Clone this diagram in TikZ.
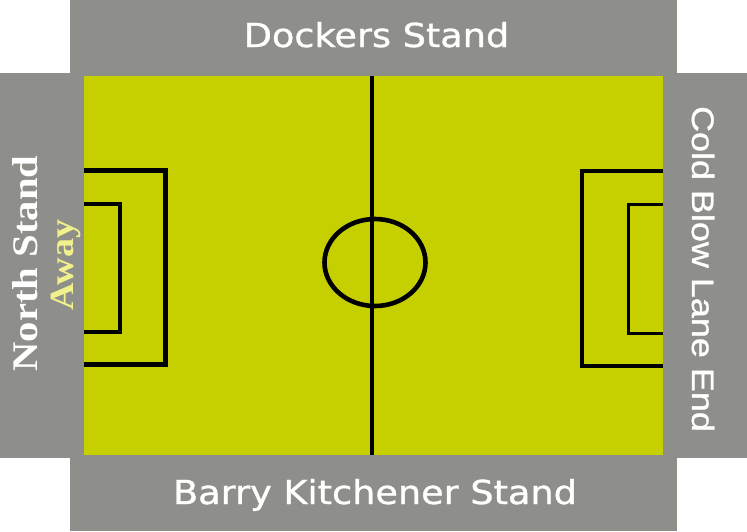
\documentclass[tikz,border=0pt]{standalone}
\usepackage{fontspec}
\usepackage{graphicx}
\newfontfamily\verdanafont[FakeBold=1]{DejaVu Sans}
\newfontfamily\timesfont{Liberation Serif}
\newfontfamily\arialfont[FakeBold=1]{Liberation Sans}
\definecolor{standgrey}{RGB}{142,142,138}
\definecolor{pitchgreen}{RGB}{198,208,0}
\definecolor{awayyellow}{RGB}{240,240,140}
\tikzset{
  standlabel/.style={text=white, inner sep=0pt, anchor=base},
  pitchline/.style={draw=black, line width=4.6pt},
  boxline/.style={draw=black, line width=3.6pt},
}
\begin{document}
\begin{tikzpicture}[x=1pt,y=-1pt]
\useasboundingbox (0,0) rectangle (747,531);
\fill[white] (0,0) rectangle (747,531);
% stands
\fill[standgrey] (70,0) rectangle (677,531);
\fill[standgrey] (0,73) rectangle (747,458);
% pitch
\fill[pitchgreen] (84,76) rectangle (663,455);
% halfway line and centre circle
\draw[pitchline] (372,76) -- (372,455);
\draw[pitchline] (375,262.5) ellipse [x radius=50.5, y radius=43.5];
% left boxes
\draw[pitchline] (84,170.5) -- (165.5,170.5) -- (165.5,364.5) -- (84,364.5);
\draw[boxline] (84,204) -- (120,204) -- (120,332) -- (84,332);
% right boxes
\draw[pitchline] (663,171) -- (582,171) -- (582,366) -- (663,366);
\draw[boxline] (663,204.5) -- (628.5,204.5) -- (628.5,333.5) -- (663,333.5);
% labels
\node[standlabel, font=\verdanafont\fontsize{33}{33}\selectfont] (dockers) at (376.5,47) {\scalebox{1.11}[1]{Dockers Stand}};
\node[standlabel, font=\verdanafont\fontsize{33}{33}\selectfont] (barry) at (375,504) {\scalebox{1.11}[1]{Barry Kitchener Stand}};
\node[standlabel, rotate=90, font=\timesfont\bfseries\fontsize{36}{36}\selectfont] (north) at (37,263.5) {\scalebox{1.13}[1]{North Stand}};
\node[standlabel, text=awayyellow, rotate=90, font=\timesfont\bfseries\fontsize{34}{34}\selectfont] (away) at (73.5,265) {\scalebox{1.12}[1]{Away}};
\node[standlabel, rotate=-90, font=\arialfont\fontsize{31}{31}\selectfont] (coldblow) at (692,269) {\scalebox{1.16}[1]{Cold Blow Lane End}};
\end{tikzpicture}
\end{document}
